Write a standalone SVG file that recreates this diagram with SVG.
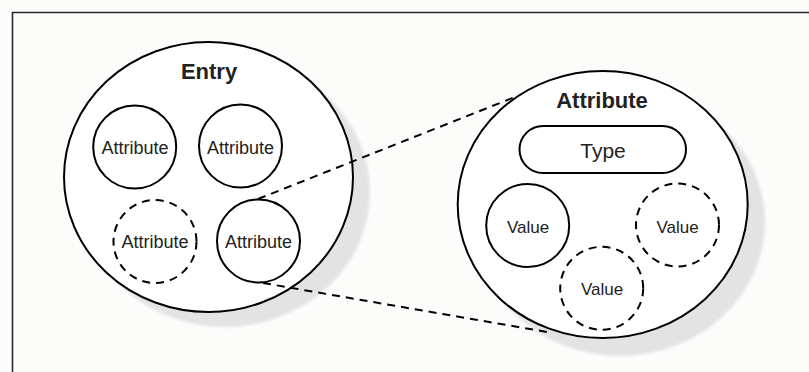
<svg xmlns="http://www.w3.org/2000/svg" width="809" height="372" viewBox="0 0 809 372">
<defs>
<style>
.bg{fill:#fcfdfb}
.frame{fill:none;stroke:#2a2a2a;stroke-width:1.6}
.shadow{fill:#e3e3e3}
.big{fill:#fff;stroke:#000;stroke-width:2}
.c{fill:#fff;stroke:#000;stroke-width:2}
.d{fill:#fff;stroke:#000;stroke-width:2;stroke-dasharray:8 6}
.conn{fill:none;stroke:#000;stroke-width:2;stroke-dasharray:8 6}
.t{font-family:"Liberation Sans",Arial,sans-serif;fill:#222;text-anchor:middle}
.s{font-size:18px}
.v{font-size:17px}
.b{font-size:22px;font-weight:bold}
</style>
<filter id="blur" x="-10%" y="-10%" width="120%" height="120%"><feGaussianBlur stdDeviation="1.5"/></filter>
</defs>
<rect class="bg" x="0" y="0" width="809" height="372"/>
<path class="frame" d="M12.5,372 V12.5 H809"/>
<g id="entry">
<ellipse class="shadow" filter="url(#blur)" cx="225" cy="192" rx="145" ry="135"/>
<ellipse class="big" cx="208.5" cy="177" rx="144.5" ry="135"/>
<text class="t b" x="209" y="79">Entry</text>
</g>
<g id="attr1">
<circle class="c" cx="134.7" cy="147" r="41.5"/>
<text class="t s" x="135" y="154">Attribute</text>
</g>
<g id="attr2">
<circle class="c" cx="240.5" cy="146" r="41.5"/>
<text class="t s" x="240.5" y="154">Attribute</text>
</g>
<g id="attr3">
<circle class="d" cx="155" cy="241.5" r="41.5"/>
<text class="t s" x="155" y="248">Attribute</text>
</g>
<g id="attr4">
<circle class="c" cx="258.5" cy="241" r="41.5"/>
<text class="t s" x="258.5" y="248">Attribute</text>
</g>
<g id="attribute">
<ellipse class="shadow" filter="url(#blur)" cx="620" cy="222" rx="145" ry="134"/>
<ellipse class="big" cx="602.7" cy="204.5" rx="145" ry="133.5"/>
<text class="t b" x="602" y="108">Attribute</text>
</g>
<g id="type">
<rect class="c" x="519.5" y="126" width="166.5" height="47" rx="23.5"/>
<text class="t" style="font-size:21px" x="603" y="158">Type</text>
</g>
<g id="value1">
<circle class="c" cx="527.7" cy="225.5" r="41.5"/>
<text class="t v" x="528" y="233">Value</text>
</g>
<g id="value2">
<circle class="d" cx="677.5" cy="225" r="41.5"/>
<text class="t v" x="677.5" y="233">Value</text>
</g>
<g id="value3">
<circle class="d" cx="601.7" cy="288.3" r="41.5"/>
<text class="t v" x="602" y="295">Value</text>
</g>
<g id="connectors">
<path class="conn" d="M258,199 L515,97"/>
<path class="conn" d="M263,283 L547,332"/>
</g>
</svg>
